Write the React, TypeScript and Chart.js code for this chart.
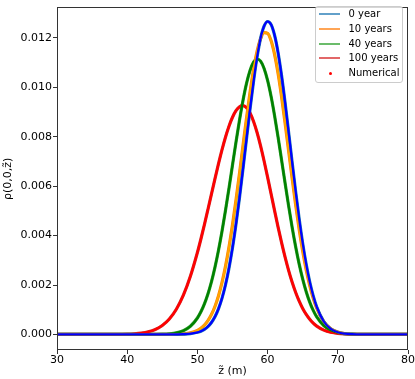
import React, { useEffect, useRef } from "react";
import { Chart, registerables } from "chart.js";

Chart.register(...registerables);

const Z = [
  30, 32, 34, 36, 38, 40, 41, 42, 43, 44, 45, 46, 47, 48, 49,
  50, 50.5, 51, 51.5, 52, 52.5, 53, 53.5, 54, 54.5,
  55, 55.5, 56, 56.5, 57, 57.5, 58, 58.5, 59, 59.5,
  60, 60.5, 61, 61.5, 62, 62.5, 63, 63.5, 64, 64.5,
  65, 65.5, 66, 66.5, 67,
  68, 69, 70, 71, 72, 74, 76, 78, 80,
];

const RHO_0_YEAR = [
  0, 0, 0, 0, 0, 0, 0, 0, 0, 0, 0, 0.000001, 0.000003, 0.00001, 0.00003,
  0.000086, 0.000128, 0.000204, 0.000319, 0.000483, 0.000716, 0.001036, 0.00146, 0.002002, 0.002684,
  0.003505, 0.004467, 0.005542, 0.006714, 0.007931, 0.009126, 0.010251, 0.011226, 0.011986, 0.012478,
  0.012668, 0.012541, 0.012106, 0.011396, 0.010461, 0.009363, 0.008171, 0.006955, 0.005773, 0.00467,
  0.003686, 0.002836, 0.002128, 0.001557, 0.001111,
  0.000524, 0.000224, 0.000086, 0.00003, 0.00001, 0.000001, 0, 0, 0,
];

const RHO_10_YEARS = [
  0, 0, 0, 0, 0, 0, 0, 0, 0, 0, 0.000001, 0.000002, 0.000007, 0.000023, 0.000064,
  0.000163, 0.000251, 0.000379, 0.000559, 0.000805, 0.001133, 0.001559, 0.002095, 0.002754, 0.003537,
  0.004439, 0.005446, 0.006528, 0.007649, 0.008758, 0.009801, 0.010719, 0.011457, 0.011968, 0.012217,
  0.01219, 0.011886, 0.011326, 0.010548, 0.0096, 0.00854, 0.007424, 0.006308, 0.005237, 0.004249,
  0.00337, 0.002612, 0.001979, 0.001465, 0.00106,
  0.000518, 0.000231, 0.000094, 0.000035, 0.000012, 0.000001, 0, 0, 0,
];

const RHO_40_YEARS = [
  0, 0, 0, 0, 0, 0, 0, 0, 0.000001, 0.000003, 0.000009, 0.000026, 0.000065, 0.000152, 0.00033,
  0.000665, 0.000915, 0.001237, 0.001639, 0.00213, 0.002716, 0.003397, 0.004168, 0.005017, 0.005922,
  0.006857, 0.007788, 0.008676, 0.009481, 0.010163, 0.010686, 0.011021, 0.011149, 0.011063, 0.010768,
  0.010281, 0.009629, 0.008845, 0.007971, 0.007044, 0.006108, 0.005194, 0.004332, 0.003545, 0.002845,
  0.00224, 0.00173, 0.00131, 0.000973, 0.00071,
  0.000356, 0.000165, 0.000071, 0.000028, 0.00001, 0.000001, 0, 0, 0,
];

const RHO_100_YEARS = [
  0, 0, 0, 0, 0.000002, 0.000012, 0.000026, 0.000053, 0.000106, 0.000202, 0.000364, 0.000625, 0.001021, 0.001588, 0.002352,
  0.003315, 0.003863, 0.004447, 0.005057, 0.005679, 0.0063, 0.006902, 0.007469, 0.007985, 0.00843,
  0.008792, 0.009056, 0.009214, 0.009259, 0.009177, 0.008961, 0.008621, 0.008172, 0.007632, 0.007021,
  0.006365, 0.005685, 0.005002, 0.004337, 0.003704, 0.003117, 0.002585, 0.002111, 0.0017, 0.001348,
  0.001053, 0.00081, 0.000615, 0.000459, 0.000338,
  0.000175, 0.000086, 0.000039, 0.000017, 0.000007, 0.000001, 0, 0, 0,
];

const SERIES_LABELS = ["0 year", "10 years", "40 years", "100 years"];
const NUMERICAL_LABEL = "Numerical";
const SERIES_VALUES = [RHO_0_YEAR, RHO_10_YEARS, RHO_40_YEARS, RHO_100_YEARS];
const LINE_COLORS = ["#1f77b4", "#ff7f0e", "#2ca02c", "#d62728"];
const DOT_COLORS = ["#0000ff", "#ffa500", "#008000", "#ff0000"];

const X_TICKS = [30, 40, 50, 60, 70, 80];
const Y_TICKS = [0, 0.002, 0.004, 0.006, 0.008, 0.01, 0.012];

const FONT = "'DejaVu Sans', sans-serif";

const framePlugin = {
  id: "frame",
  afterDatasetsDraw(chart: any) {
    const { ctx, chartArea } = chart;
    const l = Math.floor(chartArea.left) + 0.5;
    const t = Math.floor(chartArea.top) + 0.5;
    const r = Math.floor(chartArea.right) - 0.5;
    const b = Math.floor(chartArea.bottom) - 0.5;
    ctx.save();
    ctx.strokeStyle = "#333";
    ctx.lineWidth = 1;
    ctx.strokeRect(l, t, r - l, b - t);
    ctx.restore();
  },
};

export default function App() {
  const canvasRef = useRef<HTMLCanvasElement | null>(null);

  useEffect(() => {
    document.body.style.margin = "0";
    const canvas = canvasRef.current;
    if (!canvas) return;

    const lineSets = SERIES_VALUES.map((vals, i) => ({
      label: SERIES_LABELS[i],
      data: Z.map((z, k) => ({ x: z, y: vals[k] })),
      borderColor: LINE_COLORS[i],
      backgroundColor: LINE_COLORS[i],
      borderWidth: 3.2,
      pointRadius: 0,
      cubicInterpolationMode: "monotone" as const,
      order: 2,
    }));
    const dotSets = SERIES_VALUES.map((vals, i) => ({
      label: NUMERICAL_LABEL,
      data: Z.map((z, k) => ({ x: z, y: vals[k] })),
      borderColor: DOT_COLORS[i],
      backgroundColor: DOT_COLORS[i],
      borderWidth: 2.2,
      pointRadius: 0,
      cubicInterpolationMode: "monotone" as const,
      order: 1,
    }));

    const chart = new Chart(canvas, {
      type: "line",
      data: { datasets: [...lineSets, ...dotSets] },
      plugins: [framePlugin],
      options: {
        animation: false,
        responsive: false,
        maintainAspectRatio: false,
        layout: { padding: { left: 0, right: 7, top: 1, bottom: 0 } },
        plugins: {
          legend: { display: false },
          tooltip: { enabled: false },
        },
        scales: {
          x: {
            type: "linear",
            min: 30,
            max: 80,
            afterFit: (s: any) => {
              s.height = 29;
            },
            afterBuildTicks: (s: any) => {
              s.ticks = X_TICKS.map((v) => ({ value: v }));
            },
            border: { display: false },
            grid: {
              drawOnChartArea: false,
              drawTicks: true,
              tickLength: 4,
              color: "#333",
            },
            ticks: {
              color: "#000",
              font: { family: FONT, size: 11 },
              padding: 0,
              maxRotation: 0,
              callback: (v: any) => String(v),
            },
            title: {
              display: true,
              text: "z̃ (m)",
              color: "#000",
              font: { family: FONT, size: 11 },
              padding: { top: 0, bottom: 1 },
            },
          },
          y: {
            type: "linear",
            min: -0.00063,
            max: 0.01323,
            afterFit: (s: any) => {
              s.width = 57;
            },
            afterBuildTicks: (s: any) => {
              s.ticks = Y_TICKS.map((v) => ({ value: v }));
            },
            border: { display: false },
            grid: {
              drawOnChartArea: false,
              drawTicks: true,
              tickLength: 4,
              color: "#333",
            },
            ticks: {
              color: "#000",
              font: { family: FONT, size: 11 },
              padding: 1,
              callback: (v: any) => Number(v).toFixed(3),
            },
            title: {
              display: true,
              text: "ρ(0,0,z̃)",
              color: "#000",
              font: { family: FONT, size: 11 },
              padding: { top: 1.5, bottom: 0 },
            },
          },
        },
      },
    });

    return () => {
      chart.destroy();
    };
  }, []);

  const legendItems = [
    ...SERIES_LABELS.map((label, i) => ({ label, color: LINE_COLORS[i], dot: false })),
    { label: NUMERICAL_LABEL, color: DOT_COLORS[3], dot: true },
  ];
  const ROW_TOPS = [0, 15, 30, 44, 59];

  return (
    <div style={{ position: "relative", width: 415, height: 379 }}>
      <canvas ref={canvasRef} width={415} height={379} style={{ display: "block" }} />
      <div
        style={{
          position: "absolute",
          left: 315,
          top: 6,
          width: 88,
          height: 77,
          boxSizing: "border-box",
          border: "1px solid #cccccc",
          borderRadius: 3,
          background: "rgba(255,255,255,0.8)",
          fontFamily: FONT,
          fontSize: 10,
          color: "#000",
        }}
      >
        {legendItems.map((item, i) => (
          <div
            key={item.label}
            style={{
              position: "absolute",
              left: 0,
              top: ROW_TOPS[i],
              height: 14,
              width: "100%",
            }}
          >
            {item.dot ? (
              <div
                style={{
                  position: "absolute",
                  left: 13,
                  top: 6,
                  width: 3,
                  height: 3,
                  borderRadius: "50%",
                  background: item.color,
                }}
              />
            ) : (
              <div
                style={{
                  position: "absolute",
                  left: 3,
                  top: 6,
                  width: 21,
                  height: 2,
                  background: item.color,
                  opacity: 0.7,
                }}
              />
            )}
            <span
              style={{
                position: "absolute",
                left: 32.5,
                top: 0,
                lineHeight: "14px",
                whiteSpace: "nowrap",
              }}
            >
              {item.label}
            </span>
          </div>
        ))}
      </div>
    </div>
  );
}
